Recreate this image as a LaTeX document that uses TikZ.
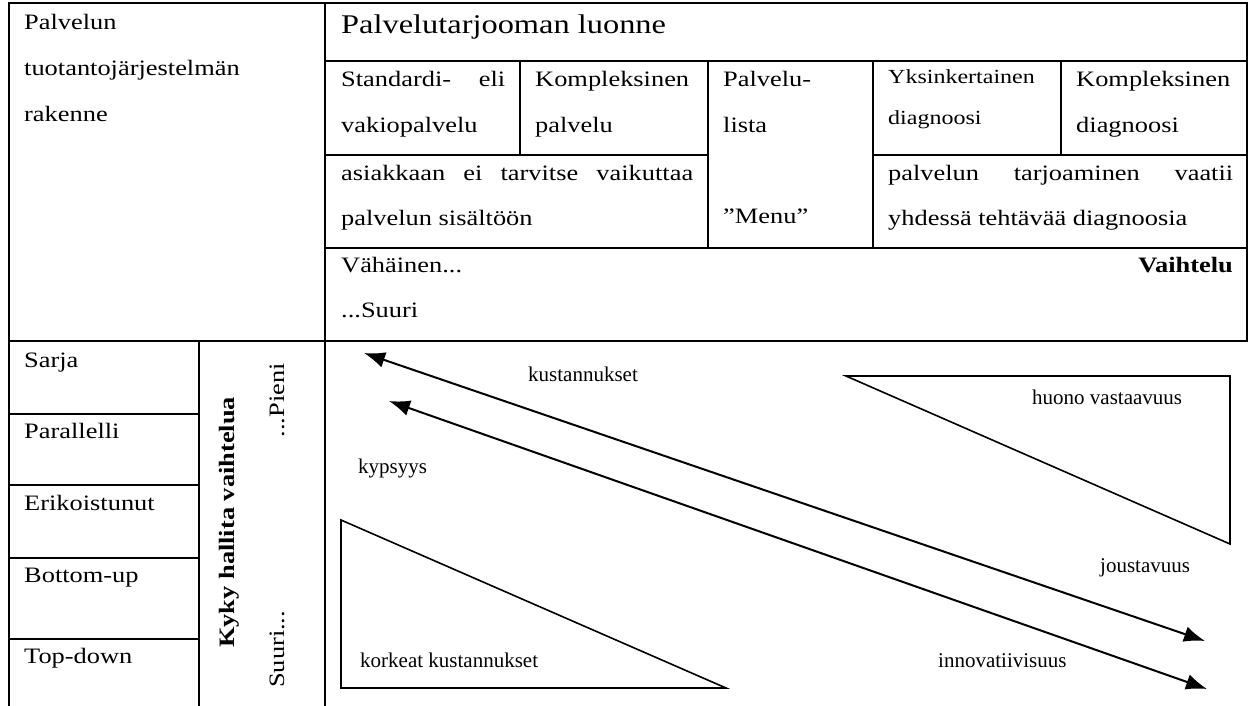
\documentclass[tikz,border=0pt]{standalone}
\usepackage{fontspec}
\setmainfont{Liberation Serif}[FakeStretch=1.2]
\newfontfamily\figfont{Liberation Serif}
\usetikzlibrary{arrows.meta}

\begin{document}
\begin{tikzpicture}[x=1pt,y=-1pt,
  rule/.style={line width=2.2pt,line cap=rect},
  shape line/.style={line width=1.6pt,line join=miter},
  dblarrow/.style={line width=2pt,
    {Latex[length=21pt,width=16pt]}-{Latex[length=21pt,width=16pt]}},
  cell/.style={anchor=base west,inner sep=0pt,font=\fontsize{22}{26}\selectfont},
  cellsmall/.style={cell,font=\fontsize{20}{24}\selectfont},
  headtxt/.style={cell,font=\fontsize{27}{32}\selectfont},
  boldtxt/.style={cell,font=\fontsize{22}{26}\selectfont\bfseries},
  figlabel/.style={anchor=base west,inner sep=0pt,font=\figfont\fontsize{21}{25}\selectfont}]

\useasboundingbox (0,0) rectangle (1248,705);

% table frame
\draw[rule] (9,705) -- (9,3) -- (1247,3) -- (1247,341);
\draw[rule] (325,3) -- (325,705);
\draw[rule] (9,341) -- (1247,341);
\draw[rule] (325,61) -- (1247,61);
\draw[rule] (325,155) -- (708,155);
\draw[rule] (873,155) -- (1247,155);
\draw[rule] (325,248) -- (1247,248);
\draw[rule] (520,61) -- (520,155);
\draw[rule] (708,61) -- (708,248);
\draw[rule] (873,61) -- (873,248);
\draw[rule] (1061,61) -- (1061,155);
% left column of the lower part
\draw[rule] (199,341) -- (199,705);
\foreach \yy in {414,485,558,639} \draw[rule] (9,\yy) -- (199,\yy);

% header texts
\node[cell] (t1) at (24,29) {Palvelun};
\node[cell] (t2) at (24,75) {tuotantojärjestelmän};
\node[cell] (t3) at (24,121) {rakenne};
\node[headtxt] (head) at (341,33) {Palvelutarjooman luonne};

\node[cell] (s1) at (341,86) {\makebox[164pt][s]{Standardi- eli}};
\node[cell] (s2) at (341,132) {vakiopalvelu};
\node[cell] (k1) at (535,86) {Kompleksinen};
\node[cell] (k2) at (535,132) {palvelu};
\node[cell] (p1) at (723,86) {Palvelu-};
\node[cell] (p2) at (723,132) {lista};
\node[cell] (menu) at (723,223) {”Menu”};
\node[cellsmall] (y1) at (888,83) {Yksinkertainen};
\node[cellsmall] (y2) at (888,124) {diagnoosi};
\node[cell] (c1) at (1076,86) {Kompleksinen};
\node[cell] (c2) at (1076,132) {diagnoosi};

\node[cell] (a1) at (341,180) {\makebox[352pt][s]{asiakkaan ei tarvitse vaikuttaa}};
\node[cell] (a2) at (341,225) {palvelun sisältöön};
\node[cell] (b1) at (888,180) {\makebox[345pt][s]{palvelun tarjoaminen vaatii}};
\node[cell] (b2) at (888,225) {yhdessä tehtävää diagnoosia};

\node[cell] (v1) at (341,272) {Vähäinen...};
\node[cell] (v2) at (341,317) {...Suuri};
\node[boldtxt,anchor=base east] (vh) at (1233,272) {Vaihtelu};

% production structure rows
\node[cell] (r1) at (24,367) {Sarja};
\node[cell] (r2) at (24,438) {Parallelli};
\node[cell] (r3) at (24,510) {Erikoistunut};
\node[cell] (r4) at (24,582) {Bottom-up};
\node[cell] (r5) at (24,663) {Top-down};

\node[boldtxt,rotate=90] (kyky) at (234,648) {Kyky hallita vaihtelua};
\node[cell,rotate=90,anchor=base east] (pieni) at (284,363) {...Pieni};
\node[cell,rotate=90] (suuri) at (284,688) {Suuri...};

% trade-off arrows
\coordinate (k-a) at (364,353);
\coordinate (k-b) at (1205,641);
\coordinate (i-a) at (389,401);
\coordinate (i-b) at (1207,689);
\draw[dblarrow] (k-a) -- (k-b);
\draw[dblarrow] (i-a) -- (i-b);

% corner triangles
\draw[shape line] (846,376) -- (1230,376) -- (1230,544) -- cycle;
\draw[shape line] (341,520) -- (341,688) -- (726,688) -- cycle;

% labels in the diagram
\node[figlabel] (l1) at (528,381) {kustannukset};
\node[figlabel] (l2) at (1032,404) {huono vastaavuus};
\node[figlabel] (l3) at (358,473) {kypsyys};
\node[figlabel] (l4) at (1100,572) {joustavuus};
\node[figlabel] (l5) at (938,667) {innovatiivisuus};
\node[figlabel] (l6) at (360,667) {korkeat kustannukset};
\end{tikzpicture}
\end{document}
